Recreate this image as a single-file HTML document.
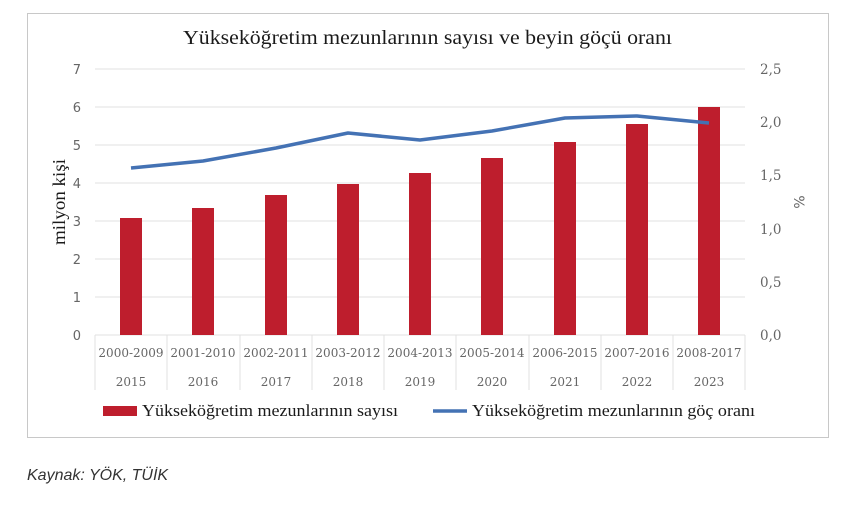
<!DOCTYPE html>
<html><head><meta charset="utf-8"><style>
body{margin:0;background:#fff;width:857px;height:504px;overflow:hidden}
</style></head><body>
<svg width="857" height="504" xmlns="http://www.w3.org/2000/svg">
<rect x="27.5" y="13.5" width="801" height="424" fill="#fff" stroke="#c8c8c8"/>
<text x="183" y="44" textLength="489" lengthAdjust="spacingAndGlyphs" font-family="Liberation Serif, serif" font-size="20" fill="#1a1a1a">Yükseköğretim mezunlarının sayısı ve beyin göçü oranı</text>
<g stroke="#e0e0e0" stroke-width="1">
<line x1="95" x2="745" y1="69" y2="69"/><line x1="95" x2="745" y1="107" y2="107"/>
<line x1="95" x2="745" y1="145" y2="145"/><line x1="95" x2="745" y1="183" y2="183"/>
<line x1="95" x2="745" y1="221" y2="221"/><line x1="95" x2="745" y1="259" y2="259"/>
<line x1="95" x2="745" y1="297" y2="297"/><line x1="95" x2="745" y1="335" y2="335"/>
<line x1="95" x2="95" y1="335" y2="390"/><line x1="167" x2="167" y1="335" y2="390"/>
<line x1="240" x2="240" y1="335" y2="390"/><line x1="312" x2="312" y1="335" y2="390"/>
<line x1="384" x2="384" y1="335" y2="390"/><line x1="456" x2="456" y1="335" y2="390"/>
<line x1="529" x2="529" y1="335" y2="390"/><line x1="601" x2="601" y1="335" y2="390"/>
<line x1="673" x2="673" y1="335" y2="390"/><line x1="745" x2="745" y1="335" y2="390"/>
</g>
<g font-family="DejaVu Sans, sans-serif" font-size="13" fill="#666" text-anchor="end">
<text x="81" y="74">7</text><text x="81" y="112">6</text><text x="81" y="150">5</text><text x="81" y="188">4</text>
<text x="81" y="226">3</text><text x="81" y="264">2</text><text x="81" y="302">1</text><text x="81" y="340">0</text>
</g>
<g font-family="DejaVu Serif, serif" font-size="13.5" fill="#666">
<text x="760" y="74">2,5</text><text x="760" y="127">2,0</text><text x="760" y="180">1,5</text>
<text x="760" y="234">1,0</text><text x="760" y="287">0,5</text><text x="760" y="340">0,0</text>
</g>
<text transform="translate(65,202) rotate(-90)" text-anchor="middle" textLength="86" lengthAdjust="spacingAndGlyphs" font-family="Liberation Serif, serif" font-size="18" fill="#1a1a1a">milyon kişi</text>
<text transform="translate(794,202) rotate(90)" text-anchor="middle" font-family="DejaVu Sans, sans-serif" font-size="14" fill="#666">%</text>
<g fill="#be1e2d">
<rect x="120" y="218" width="22" height="117"/><rect x="192" y="208" width="22" height="127"/>
<rect x="265" y="195" width="22" height="140"/><rect x="337" y="184" width="22" height="151"/>
<rect x="409" y="173" width="22" height="162"/><rect x="481" y="158" width="22" height="177"/>
<rect x="554" y="142" width="22" height="193"/><rect x="626" y="124" width="22" height="211"/>
<rect x="698" y="107" width="22" height="228"/>
</g>
<polyline fill="none" stroke="#4472b4" stroke-width="3.5" stroke-linejoin="round" points="131,168 203,161 276,148 348,133 420,140 492,131 565,118 637,116 709,123"/>
<g font-family="DejaVu Serif, serif" font-size="12" fill="#666" text-anchor="middle">
<text x="131" y="357">2000-2009</text><text x="203" y="357">2001-2010</text><text x="276" y="357">2002-2011</text>
<text x="348" y="357">2003-2012</text><text x="420" y="357">2004-2013</text><text x="492" y="357">2005-2014</text>
<text x="565" y="357">2006-2015</text><text x="637" y="357">2007-2016</text><text x="709" y="357">2008-2017</text>
<text x="131" y="386">2015</text><text x="203" y="386">2016</text><text x="276" y="386">2017</text>
<text x="348" y="386">2018</text><text x="420" y="386">2019</text><text x="492" y="386">2020</text>
<text x="565" y="386">2021</text><text x="637" y="386">2022</text><text x="709" y="386">2023</text>
</g>
<rect x="103" y="406" width="34" height="10" fill="#be1e2d"/>
<text x="142" y="416" textLength="256" lengthAdjust="spacingAndGlyphs" font-family="Liberation Serif, serif" font-size="16.5" fill="#1a1a1a">Yükseköğretim mezunlarının sayısı</text>
<line x1="433" x2="467" y1="411" y2="411" stroke="#4472b4" stroke-width="3.5"/>
<text x="472" y="416" textLength="283" lengthAdjust="spacingAndGlyphs" font-family="Liberation Serif, serif" font-size="16.5" fill="#1a1a1a">Yükseköğretim mezunlarının göç oranı</text>
<text x="27" y="480" font-family="Liberation Sans, sans-serif" font-style="italic" font-size="16" fill="#333">Kaynak: YÖK, TÜİK</text>
</svg>
</body></html>
